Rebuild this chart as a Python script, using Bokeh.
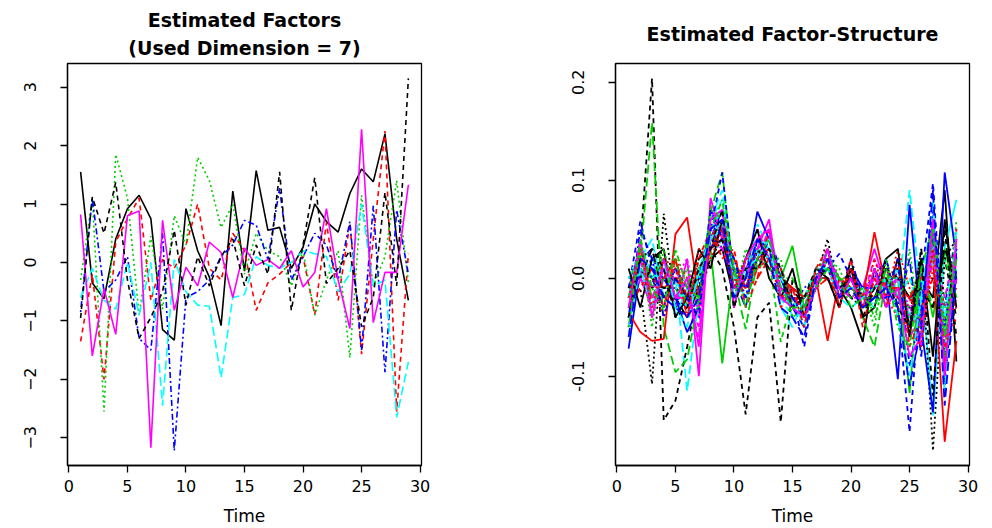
from bokeh.plotting import figure
from bokeh.layouts import row
from bokeh.models import FixedTicker, Title, Range1d
from bokeh.embed import file_html
from bokeh.resources import INLINE

# ---------------- data ----------------
time = list(range(1, 30))

# Left panel: 7 estimated factors
f1 = [1.55, -0.35, -0.62, 0.4, 0.92, 1.15, 0.75, -1.15, -1.33, 0.92, 0.2, -0.25, -1.08, 1.22, -0.15, 1.57, 0.55, 0.6, -0.1, 0.26, 1.0, 0.7, 0.52, 1.18, 1.6, 1.38, 2.2, 0.4, -0.65]
f2 = [-1.35, -0.2, -2.0, 0.35, 0.75, 1.1, -0.65, 0.05, -0.1, 0.3, 1.0, -0.1, -0.3, 0.5, 0.2, -0.82, -0.35, -0.2, 0.0, 0.1, -0.9, 0.68, -0.65, 0.67, -1.57, 0.4, 2.25, -2.55, 0.15]
f3 = [-0.3, 1.1, -2.55, 1.85, 1.1, -0.9, 0.45, -0.8, 0.8, 0.3, 1.8, 1.4, 0.6, 1.0, -0.2, 0.5, 0.2, 0.1, -0.4, 0.2, -0.9, -0.3, 0.2, -1.63, 1.15, -0.4, 0.1, 1.4, -0.35]
f4 = [-0.85, 1.1, -0.5, -0.3, 0.1, -1.3, -1.5, 0.5, -3.22, -0.6, -0.5, -0.3, 0.1, 0.3, 0.72, 0.64, 0.05, 1.27, -0.3, 0.1, 0.5, 0.3, -0.3, 0.7, -1.5, 0.97, -1.88, 0.9, -0.2]
f5 = [-0.6, -0.1, -0.65, -0.8, 0.0, -0.9, 0.0, -2.45, 0.05, -0.5, -0.73, -0.75, -1.97, -0.6, -0.55, 0.1, -0.05, -0.1, 0.0, 0.2, 0.15, 0.1, -0.5, -0.2, 1.0, -0.4, -0.3, -2.65, -1.7]
f6 = [0.82, -1.6, -0.45, -1.23, 0.8, 0.88, -3.17, 0.72, -0.82, -0.08, -0.4, 0.35, 0.17, -0.6, 0.25, -0.05, 0.05, -0.1, 0.2, -0.42, -0.17, 0.92, -0.3, -1.13, 2.28, -1.03, -0.17, -0.17, 1.33]
f7 = [-0.95, 1.12, 0.5, 1.37, -0.3, -1.3, -0.94, -0.5, 0.55, -0.73, 0.1, -0.4, 0.1, 0.4, -0.4, 0.3, -0.2, 1.55, -0.82, 0.3, 1.45, -0.36, -0.1, 0.2, -1.1, -0.6, 1.2, -0.4, 3.15]
factors = [f1, f2, f3, f4, f5, f6, f7]

# Right panel: estimated factor-structure (individual curves)
v01 = [-0.02, 0.01, -0.01, 0.0, -0.02, -0.04, -0.01, 0.02, 0.03, -0.02, 0.0, 0.04, 0.02, 0.0, -0.02, -0.02, 0.0, 0.01, -0.01, -0.03, -0.065, 0.01, -0.02, 0.02, -0.05, 0.0, -0.02, 0.09, -0.085]
v02 = [-0.03, 0.0, 0.01, -0.02, 0.0, -0.01, 0.0, 0.04, 0.05, 0.0, -0.01, 0.03, 0.01, -0.01, -0.02, -0.03, -0.01, 0.02, -0.02, 0.0, -0.01, -0.02, 0.0, -0.01, -0.03, 0.0, 0.02, -0.05, 0.03]
v03 = [0.0, 0.02, -0.02, 0.01, -0.03, 0.0, 0.02, 0.03, 0.06, 0.01, -0.02, 0.02, 0.03, -0.01, -0.01, -0.02, 0.0, 0.03, 0.0, -0.01, -0.03, -0.03, 0.01, -0.02, 0.0, -0.03, 0.04, -0.02, 0.02]
v04 = [-0.01, 0.03, 0.0, -0.03, 0.01, -0.02, -0.01, 0.05, 0.03, -0.01, 0.02, 0.01, 0.04, 0.01, -0.03, -0.01, 0.0, 0.0, -0.02, 0.02, -0.02, 0.0, -0.03, 0.01, -0.04, -0.05, 0.03, -0.03, 0.05]
v05 = [-0.03, 0.02, 0.04, -0.02, 0.0, -0.115, -0.02, 0.06, 0.09, 0.0, -0.02, 0.02, 0.05, 0.0, -0.04, -0.03, 0.0, 0.02, -0.01, -0.02, -0.02, -0.03, 0.01, -0.02, 0.09, -0.02, 0.05, -0.06, 0.04]
v06 = [-0.04, 0.0, -0.03, 0.01, -0.03, 0.02, -0.1, 0.082, 0.04, -0.01, 0.01, 0.03, 0.06, -0.02, -0.01, -0.02, 0.0, 0.02, 0.0, -0.02, -0.01, 0.03, -0.01, 0.0, -0.06, -0.04, 0.05, -0.09, 0.02]
v07 = [-0.02, 0.03, 0.204, -0.145, -0.125, -0.07, -0.01, 0.03, 0.01, -0.05, -0.139, -0.04, -0.025, -0.147, 0.0, -0.02, 0.0, 0.02, -0.01, 0.0, -0.03, -0.02, 0.0, -0.02, -0.03, -0.01, 0.03, 0.02, -0.04]
v08 = [-0.01, 0.01, 0.0, -0.04, 0.02, 0.0, 0.01, 0.02, 0.04, 0.02, -0.01, 0.01, 0.03, 0.0, -0.02, -0.04, -0.01, 0.0, -0.01, 0.01, -0.02, 0.0, -0.02, 0.03, -0.01, -0.06, 0.01, -0.04, -0.03]
v09 = [0.0, 0.02, -0.01, 0.02, -0.01, -0.03, 0.0, 0.03, 0.05, -0.02, 0.0, 0.02, 0.01, 0.0, 0.0, -0.03, -0.01, 0.01, 0.0, -0.02, -0.01, -0.04, 0.0, -0.01, -0.02, 0.01, -0.03, 0.02, -0.02]
v10 = [-0.03, 0.0, 0.02, 0.0, -0.02, -0.04, 0.0, 0.04, 0.07, 0.0, -0.03, 0.03, 0.02, -0.01, -0.03, -0.05, 0.0, 0.02, -0.02, 0.0, -0.03, -0.01, 0.02, -0.03, 0.02, -0.08, 0.06, -0.1, 0.0]
v11 = [-0.02, 0.035, 0.0, 0.02, -0.04, -0.01, 0.0, 0.05, 0.07, 0.01, 0.0, 0.04, 0.03, -0.01, -0.03, -0.04, -0.01, 0.03, -0.01, 0.0, -0.02, 0.0, -0.01, 0.01, -0.04, 0.0, -0.14, 0.03, 0.08]
v12 = [-0.03, 0.02, -0.04, 0.0, 0.01, -0.02, -0.06, 0.07, 0.05, -0.02, 0.02, 0.05, 0.02, 0.0, -0.02, -0.03, 0.0, 0.0, -0.01, -0.01, -0.02, 0.02, -0.01, -0.03, -0.02, -0.07, 0.04, -0.02, 0.03]
v13 = [-0.03, -0.01, -0.108, 0.066, -0.03, 0.0, -0.02, 0.02, 0.04, -0.01, 0.0, 0.03, 0.02, 0.0, -0.01, -0.02, 0.0, 0.04, -0.02, 0.01, -0.02, -0.01, 0.0, 0.01, -0.05, 0.03, -0.176, 0.02, 0.04]
v14 = [-0.02, 0.01, 0.0, -0.01, 0.0, -0.02, 0.01, 0.03, 0.04, 0.0, -0.02, 0.01, 0.02, -0.01, -0.02, -0.02, 0.0, 0.0, -0.02, 0.0, -0.03, -0.02, 0.0, -0.02, -0.02, -0.03, 0.0, -0.06, -0.02]
v15 = [-0.01, 0.02, 0.159, -0.05, -0.096, -0.083, -0.02, 0.068, 0.108, 0.0, -0.052, 0.02, 0.03, 0.0, -0.03, -0.02, 0.0, 0.01, -0.02, 0.0, -0.04, -0.07, 0.0, -0.02, -0.04, -0.03, 0.06, -0.05, 0.02]
v16 = [-0.072, 0.01, 0.0, 0.01, -0.02, -0.055, -0.03, 0.04, 0.06, 0.0, 0.0, 0.068, 0.04, 0.0, -0.03, -0.02, 0.0, 0.02, -0.02, 0.01, -0.01, -0.01, 0.0, -0.103, 0.075, -0.05, -0.137, 0.108, 0.02]
v17 = [-0.01, 0.0, 0.02, -0.02, 0.0, -0.03, 0.0, 0.06, 0.08, -0.01, 0.0, 0.055, 0.03, -0.02, -0.04, -0.035, 0.0, 0.02, -0.01, 0.0, -0.02, -0.02, 0.01, -0.02, 0.0, -0.04, 0.06, -0.07, 0.03]
v18 = [-0.02, 0.0, -0.02, 0.0, 0.0, 0.02, -0.04, 0.05, 0.04, 0.0, -0.01, 0.02, 0.01, -0.01, -0.02, -0.02, 0.0, 0.01, -0.01, -0.01, -0.02, -0.01, -0.02, 0.0, -0.03, -0.02, 0.02, -0.06, 0.0]
v19 = [-0.02, 0.02, 0.0, -0.01, -0.01, -0.02, 0.02, 0.03, 0.05, -0.01, 0.0, 0.02, 0.04, 0.0, -0.01, -0.03, -0.01, 0.02, 0.0, -0.02, -0.03, -0.01, 0.0, 0.0, -0.02, -0.01, 0.0, -0.03, 0.01]
v20 = [-0.03, -0.01, 0.01, -0.03, 0.02, -0.02, 0.0, 0.04, 0.06, 0.02, -0.01, 0.0, 0.02, 0.01, -0.02, -0.03, -0.01, 0.0, -0.02, 0.0, -0.02, -0.01, 0.01, -0.02, -0.02, -0.04, 0.03, -0.03, -0.01]
v21 = [-0.02, 0.03, -0.02, 0.0, 0.02, -0.03, 0.01, 0.03, -0.087, 0.01, 0.0, 0.03, 0.02, 0.0, 0.033, -0.03, 0.0, 0.02, 0.0, -0.01, -0.02, -0.01, 0.0, 0.0, -0.117, 0.02, -0.04, 0.03, -0.02]
v22 = [-0.01, 0.058, 0.01, 0.0, -0.02, -0.03, 0.0, 0.05, 0.108, 0.0, -0.01, 0.03, 0.02, -0.01, -0.02, -0.07, 0.0, 0.01, 0.025, 0.0, -0.01, 0.0, 0.02, -0.03, -0.157, 0.0, 0.097, -0.08, 0.04]
v23 = [0.0, 0.03, 0.02, 0.0, -0.01, -0.02, 0.01, 0.02, 0.04, 0.0, -0.01, 0.02, 0.03, 0.0, -0.01, -0.02, 0.0, 0.03, -0.01, 0.0, -0.02, -0.01, 0.0, -0.01, -0.02, -0.02, 0.03, -0.03, 0.01]
v24 = [-0.02, 0.01, -0.01, 0.0, 0.0, -0.01, -0.03, 0.04, 0.03, 0.0, 0.01, 0.02, 0.05, -0.01, -0.02, -0.03, 0.0, 0.02, 0.0, -0.01, -0.02, 0.0, -0.02, 0.0, -0.04, -0.05, 0.02, -0.04, 0.02]
v25 = [-0.01, 0.0, 0.03, -0.02, 0.0, -0.02, 0.0, 0.03, 0.04, -0.01, 0.0, 0.03, 0.01, 0.0, -0.02, -0.02, 0.0, 0.01, -0.01, 0.0, -0.02, -0.02, 0.01, 0.0, -0.02, -0.01, -0.03, 0.03, 0.0]
v26 = [-0.035, -0.055, -0.064, -0.062, 0.045, 0.062, -0.02, 0.03, 0.05, 0.0, -0.01, 0.02, 0.03, 0.0, -0.01, -0.02, 0.0, -0.064, 0.0, -0.01, -0.02, 0.047, -0.01, -0.01, -0.02, 0.0, 0.02, -0.167, -0.064]
v27 = [-0.02, 0.01, 0.0, 0.02, -0.02, 0.0, -0.02, 0.07, 0.06, 0.0, 0.0, 0.03, 0.02, -0.065, -0.02, -0.03, 0.0, 0.01, 0.0, -0.01, -0.02, -0.02, 0.0, -0.02, -0.03, -0.03, 0.04, -0.04, 0.01]
v28 = [-0.04, 0.02, 0.0, -0.02, 0.01, -0.01, 0.0, 0.03, 0.05, 0.01, -0.01, 0.02, 0.03, 0.0, -0.03, -0.04, 0.0, 0.01, -0.02, 0.0, -0.02, -0.01, -0.01, -0.02, -0.03, -0.04, 0.04, -0.05, 0.03]
v29 = [-0.02, 0.01, 0.0, 0.01, -0.01, -0.03, 0.0, 0.04, 0.05, 0.0, 0.0, 0.03, 0.02, 0.0, -0.02, -0.05, 0.0, 0.02, -0.01, -0.01, -0.01, -0.03, 0.0, 0.0, -0.05, -0.03, 0.02, -0.04, 0.04]
v30 = [-0.03, 0.0, -0.02, 0.01, -0.02, -0.02, -0.05, 0.06, 0.05, -0.01, 0.0, 0.03, 0.04, -0.02, -0.02, -0.03, 0.0, 0.02, -0.01, -0.02, -0.02, 0.0, -0.01, -0.02, -0.03, -0.05, 0.03, -0.07, 0.0]
v31 = [0.01, -0.03, 0.02, 0.03, -0.04, -0.02, 0.03, 0.01, 0.06, -0.03, 0.02, 0.05, 0.0, -0.02, 0.01, -0.04, 0.01, 0.0, -0.03, 0.01, -0.04, -0.03, 0.02, 0.03, -0.06, 0.02, -0.08, 0.06, -0.03]
v32 = [-0.05, 0.04, -0.03, 0.0, 0.02, -0.04, 0.02, 0.05, 0.02, 0.03, -0.03, 0.0, 0.05, -0.03, -0.01, -0.05, 0.01, 0.03, -0.03, 0.02, -0.05, 0.0, -0.03, 0.02, -0.07, -0.04, 0.06, -0.09, 0.05]
v33 = [-0.06, 0.03, -0.05, 0.03, -0.02, 0.01, -0.03, 0.06, 0.07, -0.02, 0.03, 0.01, 0.02, 0.02, -0.04, -0.03, 0.01, 0.02, 0.01, -0.02, -0.01, -0.05, 0.02, -0.04, 0.03, -0.06, 0.05, -0.08, 0.06]
v34 = [-0.04, 0.05, 0.02, -0.04, 0.0, -0.02, -0.04, 0.07, 0.04, 0.02, -0.02, 0.04, 0.03, -0.02, -0.02, -0.04, -0.01, 0.03, -0.02, 0.0, -0.03, -0.02, -0.02, 0.02, -0.09, -0.03, 0.07, -0.11, 0.03]
v35 = [-0.05, 0.01, -0.03, 0.02, -0.03, -0.05, 0.01, 0.04, 0.06, -0.02, 0.01, 0.02, 0.04, -0.03, -0.05, -0.02, 0.01, 0.01, -0.02, -0.03, -0.02, -0.01, 0.0, -0.04, -0.1, -0.02, 0.08, -0.12, 0.05]
v36 = [-0.03, 0.04, -0.04, 0.02, -0.02, 0.0, -0.07, 0.06, 0.07, -0.03, 0.02, 0.04, 0.05, -0.02, -0.03, -0.04, -0.01, 0.03, -0.02, 0.0, -0.03, 0.01, -0.03, -0.01, -0.08, -0.06, 0.06, -0.1, 0.04]
v37 = [-0.04, 0.02, 0.03, 0.01, -0.04, -0.03, 0.01, 0.03, 0.07, -0.03, 0.01, 0.01, 0.03, 0.01, -0.03, -0.02, 0.01, 0.0, -0.03, 0.02, -0.04, -0.01, 0.0, -0.03, -0.05, 0.03, -0.12, 0.05, -0.06]
v38 = [-0.02, 0.03, -0.03, 0.02, 0.01, -0.04, 0.03, 0.02, 0.05, -0.01, 0.02, 0.02, 0.02, -0.02, -0.01, -0.04, 0.01, 0.02, -0.03, 0.01, -0.03, 0.02, -0.02, -0.04, -0.05, -0.07, 0.03, -0.07, -0.04]
v39 = [-0.05, 0.04, -0.01, -0.03, 0.03, -0.01, -0.02, 0.05, 0.08, 0.01, -0.03, 0.02, 0.04, -0.01, -0.03, -0.03, -0.01, 0.01, 0.0, -0.03, -0.02, -0.03, 0.01, -0.05, -0.07, 0.01, 0.05, -0.06, 0.02]
v40 = [-0.06, 0.02, 0.01, -0.02, -0.03, -0.04, -0.02, 0.05, 0.06, -0.02, 0.0, 0.04, 0.02, -0.03, -0.04, -0.06, 0.0, 0.02, -0.02, -0.01, -0.03, -0.02, -0.01, -0.03, -0.11, -0.05, 0.09, -0.13, 0.01]
structure = [v01, v02, v03, v04, v05, v06, v07, v08, v09, v10, v11, v12, v13, v14, v15,
             v16, v17, v18, v19, v20, v21, v22, v23, v24, v25, v26, v27, v28, v29, v30,
             v31, v32, v33, v34, v35, v36, v37, v38, v39, v40]

x_ticks = [0, 5, 10, 15, 20, 25, 30]
left_y_ticks = [-3, -2, -1, 0, 1, 2, 3]
right_y_ticks = [-0.1, 0.0, 0.1, 0.2]
right_y_labels = {-0.1: "-0.1", 0.0: "0.0", 0.1: "0.1", 0.2: "0.2"}

# ---------------- styles (R matplot defaults) ----------------
palette = ["#000000", "#FF0000", "#00CD00", "#0000FF", "#00FFFF", "#FF00FF"]
dashes = ["solid", "5 4", "2 3", "2 3 6 3", "9 4"]
FONT = "DejaVu Sans"


def padded(vals):
    lo, hi = min(vals), max(vals)
    pad = 0.04 * (hi - lo)
    return Range1d(lo - pad, hi + pad)


def make_fig(series, y_ticks, border_left, border_right, titles, standoffs, lw):
    allv = [v for s in series for v in s]
    p = figure(width=496, height=528, output_backend="svg", toolbar_location=None,
               x_range=padded(time), y_range=padded(allv),
               min_border_left=border_left, min_border_right=border_right,
               min_border_top=63, min_border_bottom=61)
    for t, so in zip(titles, standoffs):
        p.add_layout(Title(text=t, align="center", text_font=FONT, text_font_style="bold",
                           text_font_size="19px", text_color="black", standoff=so), "above")
    for i, s in enumerate(series):
        p.line(time, s, line_color=palette[i % 6], line_dash=dashes[i % 5], line_width=lw)
    p.xgrid.visible = False
    p.ygrid.visible = False
    p.outline_line_color = "black"
    p.outline_line_width = 1.3
    p.background_fill_color = "white"
    p.border_fill_color = "white"
    for ax in (p.xaxis[0], p.yaxis[0]):
        ax.axis_line_color = "black"
        ax.axis_line_width = 1.3
        ax.major_tick_line_color = "black"
        ax.major_tick_line_width = 1.3
        ax.major_tick_out = 7
        ax.major_tick_in = 0
        ax.minor_tick_line_color = None
        ax.major_label_text_font = FONT
        ax.major_label_text_font_size = "16px"
        ax.major_label_text_color = "black"
    p.xaxis[0].ticker = FixedTicker(ticks=x_ticks)
    p.xaxis[0].major_label_standoff = 7
    p.xaxis[0].axis_label = "Time"
    p.xaxis[0].axis_label_text_font = FONT
    p.xaxis[0].axis_label_text_font_style = "normal"
    p.xaxis[0].axis_label_text_font_size = "17px"
    p.xaxis[0].axis_label_text_color = "black"
    p.xaxis[0].axis_label_standoff = 11
    p.yaxis[0].ticker = FixedTicker(ticks=y_ticks)
    p.yaxis[0].major_label_orientation = "vertical"
    p.yaxis[0].major_label_standoff = 24
    return p


p1 = make_fig(factors, left_y_ticks, 67, 75,
              ["(Used Dimension = 7)", "Estimated Factors"], [9, 0], 1.6)
p2 = make_fig(structure, right_y_ticks, 119, 23,
              ["Estimated Factor-Structure"], [38], 1.8)
p2.yaxis[0].major_label_overrides = right_y_labels

layout = row(p1, p2)
open("out.html", "w").write(file_html(layout, INLINE))
